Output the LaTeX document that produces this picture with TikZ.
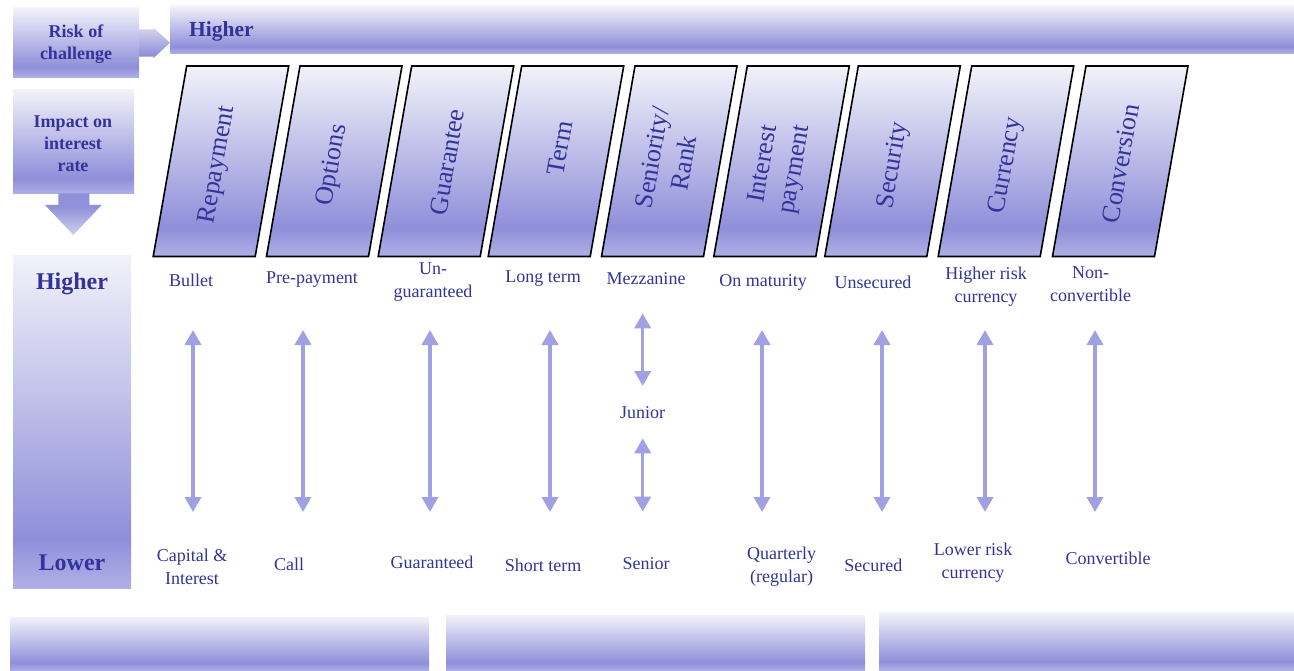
\documentclass[tikz,border=0pt]{standalone}
\usepackage{fontspec}
\setmainfont{Liberation Serif}
\usetikzlibrary{arrows.meta}

\definecolor{txt}{RGB}{51,51,153}
\definecolor{bartop}{RGB}{242,242,250}
\definecolor{bardark}{RGB}{143,143,218}
\definecolor{barbot}{RGB}{176,176,231}
\definecolor{arrowcol}{RGB}{160,160,226}

% TikZ fits the middle 50bp (25bp..75bp) of a shading to the path.
% Light at the top, darkest near the bottom, a lighter band at the very bottom.
\pgfdeclareverticalshading{barshade}{100bp}{color(0bp)=(barbot); color(25bp)=(barbot); color(32.5bp)=(bardark); color(75bp)=(bartop); color(100bp)=(bartop)}
% sideways arrow: light at the top, dark at the bottom
\pgfdeclareverticalshading{rarrowshade}{100bp}{color(0bp)=(bardark); color(30bp)=(bardark); color(75bp)=(bartop!70!bardark); color(100bp)=(bartop!70!bardark)}
% downward arrow: dark at the top, lighter towards the tip
\pgfdeclareverticalshading{darrowshade}{100bp}{color(0bp)=(barbot!60!white); color(25bp)=(barbot!60!white); color(60bp)=(bardark); color(100bp)=(bardark)}

\tikzset{
  band/.style={shading=barshade},
  tilebox/.style={shading=barshade, draw=black, line width=1.6pt, line join=miter},
  lbl/.style={text=txt, font=\fontsize{18}{23}\selectfont, align=center, inner sep=0pt},
  headlbl/.style={text=txt, font=\bfseries\fontsize{18}{22.5}\selectfont, align=center, inner sep=0pt},
  sidelbl/.style={text=txt, font=\bfseries\fontsize{24}{28}\selectfont, inner sep=0pt},
  rot/.style={text=txt, font=\fontsize{26}{32}\selectfont, rotate=80, align=center, inner sep=0pt},
  dbl/.style={draw=arrowcol, line width=3.5pt,
    {Triangle[width=16pt,length=15pt]}-{Triangle[width=16pt,length=15pt]}}
}

\begin{document}
\begin{tikzpicture}[x=1pt,y=-1pt]
\useasboundingbox (0,0) rectangle (1294,671);

% --- header row -------------------------------------------------------
\shade[band] (13,8) rectangle (139,77.5);
\shade[shading=rarrowshade] (139,29.3) -- (153.3,29.3) -- (153.3,27.7) -- (170,42.7)
  -- (153.3,58.3) -- (153.3,56.7) -- (139,56.7) -- cycle;
\node[headlbl] (risk) at (76,44) {Risk of\\challenge};

\shade[band] (170,6) rectangle (1294,54);
\node[text=txt, font=\bfseries\fontsize{21.5}{24}\selectfont, inner sep=0pt, anchor=west]
  (hiTop) at (189,31.5) {Higher};

% --- impact box with downward arrow ----------------------------------
\shade[band] (13,90) rectangle (134,194);
\shade[shading=darrowshade] (58.3,193.5) -- (89.3,193.5) -- (89.3,205) -- (101.7,205)
  -- (73.3,235) -- (45,205) -- (58.3,205) -- cycle;
\node[headlbl, font=\bfseries\fontsize{18}{22}\selectfont] (impact) at (73,143.5)
  {Impact on\\interest\\rate};

% --- side scale --------------------------------------------------------
\shade[band] (13,256) rectangle (131,588);
\node[sidelbl] (hiSide) at (72,284) {Higher};
\node[sidelbl] (loSide) at (72,563) {Lower};

% --- slanted tiles -----------------------------------------------------
\foreach \x in {186.7,300,411.7,521.7,635,747.3,858.3,971.7,1086}{
  \shade[tilebox] (\x,66) -- (\x+102,66) -- (\x+68.5,256.5) -- (\x-33.5,256.5) -- cycle;
}
\node[rot] (tRep)  at (218,165)   {Repayment};
\node[rot] (tOpt)  at (333,165)   {Options};
\node[rot] (tGua)  at (447,162)   {Guarantee};
\node[rot] (tTerm) at (560,148)   {Term};
\node[rot] (tSen)  at (668,160)   {Seniority/\\Rank};
\node[rot] (tInt)  at (780,167)   {Interest\\payment};
\node[rot] (tSec)  at (894,165.5) {Security};
\node[rot] (tCur)  at (1006.5,165.5) {Currency};
\node[rot] (tConv) at (1120.5,163.5) {Conversion};

% --- upper end labels --------------------------------------------------
\node[lbl] (hBul)  at (191,280.5) {Bullet};
\node[lbl] (hPre)  at (312,279.5) {Pre-payment};
\node[lbl] (hUng)  at (433,282)   {Un-\\guaranteed};
\node[lbl] (hLong) at (543,278.5) {Long term};
\node[lbl] (hMez)  at (646,278.5) {Mezzanine};
\node[lbl] (hMat)  at (763,282)   {On maturity};
\node[lbl] (hUns)  at (873,282)   {Unsecured};
\node[lbl] (hCur)  at (986,287)   {Higher risk\\currency};
\node[lbl] (hNon)  at (1090.5,284.5) {Non-\\convertible};
\node[lbl] (jun)   at (642.7,413) {Junior};

% --- lower end labels --------------------------------------------------
\node[lbl] (lCap)  at (192,566.5) {Capital \&\\Interest};
\node[lbl] (lCall) at (289,564)   {Call};
\node[lbl] (lGua)  at (432,562)   {Guaranteed};
\node[lbl] (lSho)  at (543,565)   {Short term};
\node[lbl] (lSen)  at (646,564)   {Senior};
\node[lbl] (lQua)  at (781.7,567) {Quarterly\\(regular)};
\node[lbl] (lSec)  at (873.3,565) {Secured};
\node[lbl] (lCur)  at (973,562.5) {Lower risk\\currency};
\node[lbl] (lConv) at (1108,558)  {Convertible};

% --- range arrows ------------------------------------------------------
\foreach \n/\x in {a/193,b/303,c/430,d/550,f/762,g/882,h/985,i/1095}{
  \coordinate (\n top) at (\x,330);
  \coordinate (\n bot) at (\x,512);
  \draw[dbl] (\n top) -- (\n bot);
}
\coordinate (e1top) at (642.7,313.3);
\coordinate (e1bot) at (642.7,386);
\coordinate (e2top) at (642.7,438.3);
\coordinate (e2bot) at (642.7,511.7);
\draw[dbl] (e1top) -- (e1bot);
\draw[dbl] (e2top) -- (e2bot);

% --- footer bands ------------------------------------------------------
\shade[band] (10,617) rectangle (429,671);
\shade[band] (446,615) rectangle (865,671);
\shade[band] (879,612) rectangle (1294,670);
\end{tikzpicture}
\end{document}
